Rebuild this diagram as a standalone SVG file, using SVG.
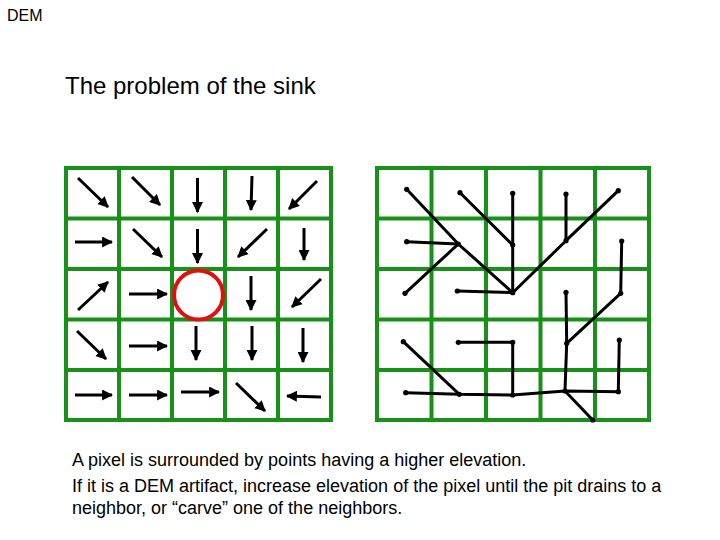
<svg xmlns="http://www.w3.org/2000/svg" width="720" height="540" viewBox="0 0 720 540">
<defs>
<marker id="ah" viewBox="0 0 10 10" refX="9" refY="5" markerWidth="11" markerHeight="11" markerUnits="userSpaceOnUse" orient="auto">
<path d="M0,0 L10,5 L0,10 z" fill="#000"/>
</marker>
<style>
.grid{fill:none;stroke:#179117;stroke-width:4}
.arr{stroke:#000;stroke-width:3;fill:none;marker-end:url(#ah)}
.flow{stroke:#000;stroke-width:3;fill:none;stroke-linecap:round}
.dot{fill:#000}
.t{font-family:"Liberation Sans",Arial,sans-serif;fill:#000}
</style>
</defs>
<rect width="720" height="540" fill="#fff"/>
<text class="t" x="7" y="21" font-size="16">DEM</text>
<text class="t" x="65" y="94" font-size="24">The problem of the sink</text>

<g id="left-grid">
<path class="grid" d="M66,168H331V420H66Z M119,168V420 M172,168V420 M225,168V420 M278,168V420 M66,218.5H331 M66,269H331 M66,319.5H331 M66,370H331"/>
</g>
<g id="sink">
<circle cx="198.5" cy="295" r="24.5" fill="#fff" stroke="#e01010" stroke-width="4"/>
</g>
<g id="arrows">
<line class="arr" x1="78" y1="178" x2="108" y2="207"/>
<line class="arr" x1="132" y1="177" x2="160" y2="205"/>
<line class="arr" x1="197.5" y1="178" x2="197.5" y2="212"/>
<line class="arr" x1="252" y1="176" x2="251" y2="210"/>
<line class="arr" x1="317" y1="181" x2="289" y2="209"/>
<line class="arr" x1="75" y1="242" x2="112" y2="242"/>
<line class="arr" x1="133" y1="229" x2="162" y2="257"/>
<line class="arr" x1="197.5" y1="229" x2="197.5" y2="263"/>
<line class="arr" x1="267" y1="229" x2="238" y2="257"/>
<line class="arr" x1="304" y1="228" x2="304" y2="260"/>
<line class="arr" x1="78" y1="310" x2="108" y2="282"/>
<line class="arr" x1="129" y1="294" x2="167" y2="294"/>
<line class="arr" x1="251" y1="276" x2="251" y2="310"/>
<line class="arr" x1="321" y1="279" x2="292" y2="307"/>
<line class="arr" x1="77" y1="331" x2="106" y2="359"/>
<line class="arr" x1="129" y1="346" x2="167" y2="346"/>
<line class="arr" x1="196" y1="326" x2="196" y2="360"/>
<line class="arr" x1="252" y1="326" x2="252" y2="360"/>
<line class="arr" x1="303" y1="328" x2="303" y2="362"/>
<line class="arr" x1="75" y1="395" x2="112" y2="395"/>
<line class="arr" x1="129" y1="395" x2="167" y2="395"/>
<line class="arr" x1="181" y1="392" x2="219" y2="392"/>
<line class="arr" x1="236" y1="383" x2="265" y2="411"/>
<line class="arr" x1="321" y1="397" x2="287" y2="396"/>
</g>

<g id="right-grid">
<path class="grid" d="M377,168H649V420H377Z M431.5,168V420 M486,168V420 M540.5,168V420 M595,168V420 M377,218.5H649 M377,269H649 M377,319.5H649 M377,370H649"/>
</g>
<g id="flow-lines">
<polyline class="flow" points="406.7,189.3 458.3,244 512.7,292.7"/>
<line class="flow" x1="406.7" y1="241.7" x2="458.3" y2="244"/>
<line class="flow" x1="405" y1="293.3" x2="458.3" y2="244"/>
<polyline class="flow" points="460,192.7 512.7,245 512.7,292.7"/>
<line class="flow" x1="512.7" y1="193.3" x2="512.7" y2="245"/>
<line class="flow" x1="457.3" y1="291" x2="512.7" y2="292.7"/>
<polyline class="flow" points="566,194 566,240.7 512.7,292.7"/>
<line class="flow" x1="618.3" y1="190.7" x2="566" y2="240.7"/>
<polyline class="flow" points="621.7,241 620.7,293.3 566.7,343.3"/>
<polyline class="flow" points="566,292.3 566.7,343.3 565,391 592.7,420"/>
<polyline class="flow" points="403.3,341.7 459.3,394.3 512.7,395 565,391 618.3,391.7 619.3,340"/>
<line class="flow" x1="405.7" y1="392.7" x2="459.3" y2="394.3"/>
<polyline class="flow" points="458.3,342.3 512.7,342.3 512.7,395"/>
</g>
<g id="flow-dots">
<circle class="dot" cx="406.7" cy="189.3" r="2.6"/>
<circle class="dot" cx="460" cy="192.7" r="2.6"/>
<circle class="dot" cx="512.7" cy="193.3" r="2.6"/>
<circle class="dot" cx="566" cy="194" r="2.6"/>
<circle class="dot" cx="618.3" cy="190.7" r="2.6"/>
<circle class="dot" cx="406.7" cy="241.7" r="2.6"/>
<circle class="dot" cx="458.3" cy="244" r="2.6"/>
<circle class="dot" cx="512.7" cy="245" r="2.6"/>
<circle class="dot" cx="566" cy="240.7" r="2.6"/>
<circle class="dot" cx="621.7" cy="241" r="2.6"/>
<circle class="dot" cx="405" cy="293.3" r="2.6"/>
<circle class="dot" cx="457.3" cy="291" r="2.6"/>
<circle class="dot" cx="512.7" cy="292.7" r="2.6"/>
<circle class="dot" cx="566" cy="292.3" r="2.6"/>
<circle class="dot" cx="620.7" cy="293.3" r="2.6"/>
<circle class="dot" cx="403.3" cy="341.7" r="2.6"/>
<circle class="dot" cx="458.3" cy="342.3" r="2.6"/>
<circle class="dot" cx="512.7" cy="342.3" r="2.6"/>
<circle class="dot" cx="566.7" cy="343.3" r="2.6"/>
<circle class="dot" cx="619.3" cy="340" r="2.6"/>
<circle class="dot" cx="405.7" cy="392.7" r="2.6"/>
<circle class="dot" cx="459.3" cy="394.3" r="2.6"/>
<circle class="dot" cx="512.7" cy="395" r="2.6"/>
<circle class="dot" cx="565" cy="391" r="2.6"/>
<circle class="dot" cx="618.3" cy="391.7" r="2.6"/>
<circle class="dot" cx="592.7" cy="420" r="2.6"/>
</g>

<text class="t" x="72" y="466" font-size="18">A pixel is surrounded by points having a higher elevation.</text>
<text class="t" x="72" y="492" font-size="18">If it is a DEM artifact, increase elevation of the pixel until the pit drains to a</text>
<text class="t" x="72" y="514" font-size="18">neighbor, or “carve” one of the neighbors.</text>
</svg>
